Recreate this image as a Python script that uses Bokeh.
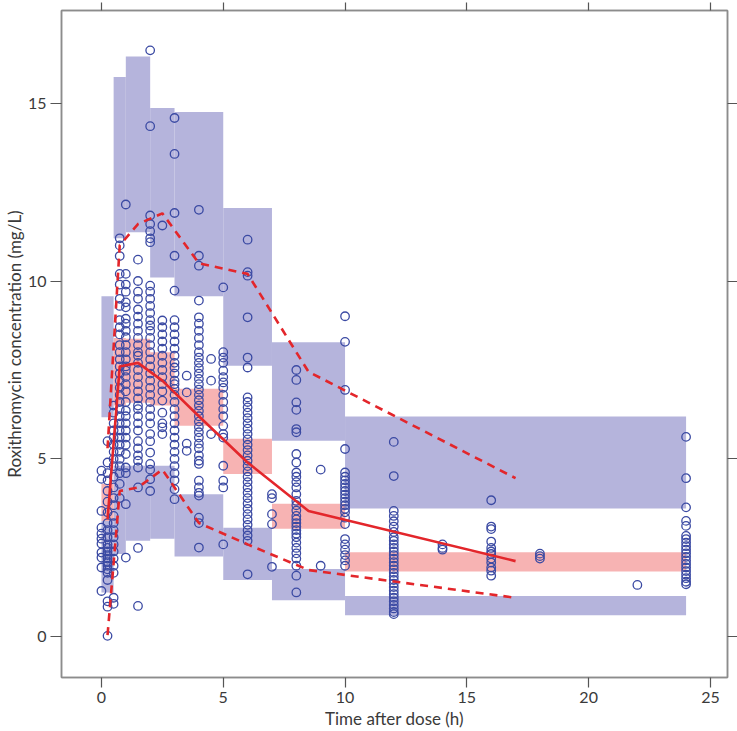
from bokeh.plotting import figure
from bokeh.models import LinearAxis, Range1d, FixedTicker, ColumnDataSource
from bokeh.embed import file_html
from bokeh.resources import INLINE

# ---------------- data ----------------
# observed concentrations grouped by nominal sampling time (h)
obs_times = [0, 0.25, 0.5, 0.75, 1.0, 1.5, 2.0, 2.5, 3.0, 3.5, 4.0, 4.5, 5.0,
             6.0, 7.0, 8.0, 9.0, 10.0, 12.0, 14.0, 16.0, 18.0, 22.0, 24.0]
c_t0 = [4.67, 4.44, 3.54, 3.07, 2.9, 2.76, 2.62, 2.37, 2.23, 1.95, 1.29]
c_t025 = [5.5, 4.9, 4.6, 4.4, 4.1, 3.8, 3.5, 3.2, 3.0, 2.8, 2.6, 2.5, 2.4, 2.3,
          2.2, 2.1, 2.0, 1.9, 1.8, 1.6, 1.0, 0.85, 0.03]
c_t05 = [6.5, 6.3, 6.0, 5.8, 5.6, 5.4, 5.2, 5.0, 4.8, 4.5, 4.2, 3.9, 3.7, 3.4,
         3.2, 3.0, 2.8, 2.6, 2.4, 2.2, 2.0, 1.8, 1.1, 0.93]
c_t075 = [11.2, 11.0, 10.7, 10.2, 9.9, 9.5, 9.3, 8.9, 8.7, 8.5, 8.2, 8.0, 7.8,
          7.6, 7.4, 7.2, 7.0, 6.8, 6.6, 6.4, 6.2, 6.0, 5.8, 5.6, 5.4, 5.2, 5.0,
          4.8, 4.6, 4.3, 3.9]
c_t1 = [12.15, 10.2, 9.9, 9.7, 9.4, 9.26, 8.94, 8.8, 8.6, 8.42, 8.2, 8.0, 7.8,
        7.6, 7.48, 7.3, 7.1, 6.9, 6.6, 6.36, 6.2, 6.0, 5.8, 5.6, 5.4, 5.14, 4.76,
        4.6, 3.73, 2.23]
c_t15 = [10.6, 10.0, 9.7, 9.5, 9.2, 9.0, 8.8, 8.6, 8.4, 8.2, 8.0, 7.9, 7.7, 7.5,
         7.3, 7.1, 6.9, 6.7, 6.5, 6.4, 6.2, 6.0, 5.8, 5.5, 5.3, 5.1, 4.95, 4.76,
         4.2, 2.5, 0.87]
c_t2 = [16.48, 14.35, 11.84, 11.6, 11.4, 11.2, 11.09, 9.87, 9.7, 9.5, 9.3, 9.1,
        8.9, 8.75, 8.6, 8.4, 8.2, 8.0, 7.8, 7.6, 7.4, 7.2, 7.0, 6.8, 6.6, 6.4,
        6.2, 6.0, 5.7, 5.5, 5.18, 4.86, 4.7, 4.43, 4.1]
c_t25 = [11.56, 8.89, 8.7, 8.5, 8.3, 8.1, 7.9, 7.7, 7.5, 7.3, 7.1, 6.9, 6.64,
         6.3, 6.0, 5.89, 5.7]
c_t3 = [14.58, 13.57, 11.91, 10.71, 9.73, 8.9, 8.7, 8.5, 8.3, 8.1, 7.9, 7.7,
        7.57, 7.4, 7.2, 7.1, 6.97, 6.8, 6.6, 6.4, 6.2, 6.0, 5.8, 5.6, 5.4, 5.2,
        5.0, 4.8, 4.6, 4.4, 4.15, 3.87]
c_t35 = [7.34, 6.87, 5.43, 5.23]
c_t4 = [12.0, 10.71, 10.43, 9.45, 8.98, 8.8, 8.6, 8.4, 8.2, 8.0, 7.85, 7.7,
        7.55, 7.4, 7.25, 7.1, 6.95, 6.8, 6.65, 6.5, 6.35, 6.2, 6.05, 5.9, 5.75,
        5.6, 5.43, 5.3, 5.1, 4.95, 4.86, 4.39, 4.2, 4.05, 3.97, 3.35, 3.2, 2.51]
c_t45 = [7.81, 7.2, 5.7]
c_t5 = [9.82, 8.0, 7.85, 7.7, 7.48, 7.3, 7.15, 7.0, 6.8, 6.6, 6.4, 6.2, 5.93,
        5.7, 5.6, 4.81, 4.39, 4.2, 2.6]
c_t6 = [11.16, 10.25, 10.15, 8.98, 7.85, 7.57, 6.73, 6.6, 6.45, 6.3, 6.15, 6.0,
        5.85, 5.7, 5.55, 5.4, 5.25, 5.1, 4.95, 4.8, 4.65, 4.5, 4.35, 4.2, 4.05,
        3.9, 3.75, 3.6, 3.45, 3.3, 3.15, 3.0, 2.85, 2.7, 1.76]
c_t7 = [4.01, 3.9, 3.45, 3.17, 1.97]
c_t8 = [7.5, 7.22, 6.59, 6.38, 5.84, 5.75, 5.14, 4.9, 4.62, 4.5, 4.35, 4.2,
        4.01, 3.82, 3.7, 3.55, 3.4, 3.3, 3.2, 3.1, 3.0, 2.9, 2.8, 2.65, 2.5,
        2.35, 2.2, 2.0, 1.72, 1.25]
c_t9 = [4.7, 2.0]
c_t10 = [9.01, 8.29, 6.94, 5.28, 4.62, 4.5, 4.4, 4.3, 4.2, 4.1, 4.0, 3.9, 3.8,
         3.7, 3.6, 3.5, 3.35, 3.17, 2.75, 2.6, 2.45, 2.3, 2.15, 2.0]
c_t12 = [5.48, 4.52, 3.54, 3.4, 3.25, 3.1, 2.95, 2.8, 2.7, 2.6, 2.5, 2.4, 2.3,
         2.2, 2.1, 2.0, 1.9, 1.8, 1.7, 1.6, 1.5, 1.4, 1.3, 1.2, 1.1, 1.0, 0.9,
         0.8, 0.7, 0.64]
c_t14 = [2.6, 2.5, 2.45]
c_t16 = [3.84, 3.1, 3.03, 2.68, 2.5, 2.4, 2.33, 2.2, 2.09, 1.95, 1.86, 1.72]
c_t18 = [2.34, 2.27, 2.2]
c_t22 = [1.46]
c_t24 = [5.62, 4.46, 3.64, 3.26, 3.12, 2.84, 2.75, 2.65, 2.55, 2.45, 2.35,
         2.25, 2.15, 2.05, 1.95, 1.85, 1.75, 1.65, 1.55, 1.48]

obs_groups = [c_t0, c_t025, c_t05, c_t075, c_t1, c_t15, c_t2, c_t25, c_t3,
              c_t35, c_t4, c_t45, c_t5, c_t6, c_t7, c_t8, c_t9, c_t10, c_t12,
              c_t14, c_t16, c_t18, c_t22, c_t24]

# VPC bins
bin_lo = [0, 0.5, 1, 2, 3, 5, 7, 10]
bin_hi = [0.5, 1, 2, 3, 5, 7, 10, 24]
# 95% CI of simulated 95th percentile
p95_lo = [6.17, 11.2, 11.37, 10.1, 9.57, 7.62, 5.51, 3.61]
p95_hi = [9.57, 15.73, 16.31, 14.86, 14.75, 12.05, 8.28, 6.19]
# 95% CI of simulated median
p50_lo = [3.26, 6.5, 6.58, 6.5, 5.93, 4.58, 3.04, 1.84]
p50_hi = [4.3, 8.4, 8.38, 8.0, 6.97, 5.57, 3.74, 2.38]
# 95% CI of simulated 5th percentile
p05_lo = [1.25, 2.33, 2.7, 2.76, 2.26, 1.6, 1.03, 0.61]
p05_hi = [3.26, 4.81, 4.81, 4.81, 4.01, 3.07, 1.91, 1.15]

# observed percentiles at bin mid-times
pct_t = [0.25, 0.75, 1.5, 2.5, 4, 6, 8.5, 17]
obs_p50 = [3.3, 7.6, 7.7, 7.2, 6.2, 4.9, 3.54, 2.13]
obs_p95 = [5.3, 11.0, 11.6, 11.9, 10.5, 10.2, 7.45, 4.46]
obs_p05 = [0.05, 4.1, 4.2, 4.7, 3.2, 2.6, 1.88, 1.1]

x_ticks = [0, 5, 10, 15, 20, 25]
y_ticks = [0, 5, 10, 15]

# ---------------- plot ----------------
FONT = "Lato"
TXT = "#3a3a3a"
FRAME = "#8c8c8c"
BLUE_BAND = "#b5b4dc"
PINK_BAND = "#f7b3b3"
RED = "#e3262b"
PT = "#3b4aa3"

p = figure(width=737, height=731, output_backend="svg", toolbar_location=None,
           x_range=Range1d(-1.64, 25.7), y_range=Range1d(-1.14, 17.6),
           x_axis_location=None, y_axis_location=None)
p.min_border_left = 60
p.min_border_right = 10
p.min_border_top = 10
p.min_border_bottom = 54
p.grid.visible = False
p.outline_line_color = FRAME
p.outline_line_width = 1.5
p.background_fill_color = "white"
p.border_fill_color = "white"


def style_axis(ax, ticks, labels, tick_len):
    ax.ticker = FixedTicker(ticks=ticks)
    ax.axis_line_color = FRAME
    ax.axis_line_width = 1.5
    ax.major_tick_line_color = "#555555"
    ax.major_tick_line_width = 1.2
    ax.major_tick_in = 0
    ax.major_tick_out = tick_len
    ax.minor_tick_line_color = None
    ax.major_label_text_font = FONT
    ax.major_label_text_color = TXT
    ax.major_label_text_font_size = "16px"
    ax.axis_label_text_font = FONT
    ax.axis_label_text_color = TXT
    ax.axis_label_text_font_size = "17px"
    ax.axis_label_text_font_style = "normal"
    if not labels:
        ax.major_label_overrides = {t: "" for t in ticks}
        ax.major_label_standoff = 0
        ax.axis_label_standoff = 0


bx = LinearAxis(axis_label="Time after dose (h)")
tx = LinearAxis()
ly = LinearAxis(axis_label="Roxithromycin concentration (mg/L)")
ry = LinearAxis()
style_axis(bx, x_ticks, True, 10)
style_axis(tx, x_ticks, False, 8)
style_axis(ly, y_ticks, True, 11)
style_axis(ry, y_ticks, False, 10)
bx.major_label_standoff = 4
bx.axis_label_standoff = 2
ly.major_label_standoff = 4
ly.axis_label_standoff = 0
p.add_layout(bx, "below")
p.add_layout(tx, "above")
p.add_layout(ly, "left")
p.add_layout(ry, "right")

# bands
band_src = ColumnDataSource(dict(left=bin_lo, right=bin_hi,
                                 p95_lo=p95_lo, p95_hi=p95_hi,
                                 p50_lo=p50_lo, p50_hi=p50_hi,
                                 p05_lo=p05_lo, p05_hi=p05_hi))
p.quad(left="left", right="right", bottom="p95_lo", top="p95_hi",
       source=band_src, fill_color=BLUE_BAND, line_color=None)
p.quad(left="left", right="right", bottom="p05_lo", top="p05_hi",
       source=band_src, fill_color=BLUE_BAND, line_color=None)
p.quad(left="left", right="right", bottom="p50_lo", top="p50_hi",
       source=band_src, fill_color=PINK_BAND, line_color=None)

# observations
xs, ys = [], []
for t, grp in zip(obs_times, obs_groups):
    xs.extend([t] * len(grp))
    ys.extend(grp)
p.scatter(xs, ys, marker="circle", size=8.5, fill_color=None,
          line_color=PT, line_width=1.3)

# observed percentiles
p.line(pct_t, obs_p50, line_color=RED, line_width=2.6)
p.line(pct_t, obs_p95, line_color=RED, line_width=2.6, line_dash="8 6")
p.line(pct_t, obs_p05, line_color=RED, line_width=2.6, line_dash="8 6")

open("out.html", "w").write(file_html(p, INLINE))
